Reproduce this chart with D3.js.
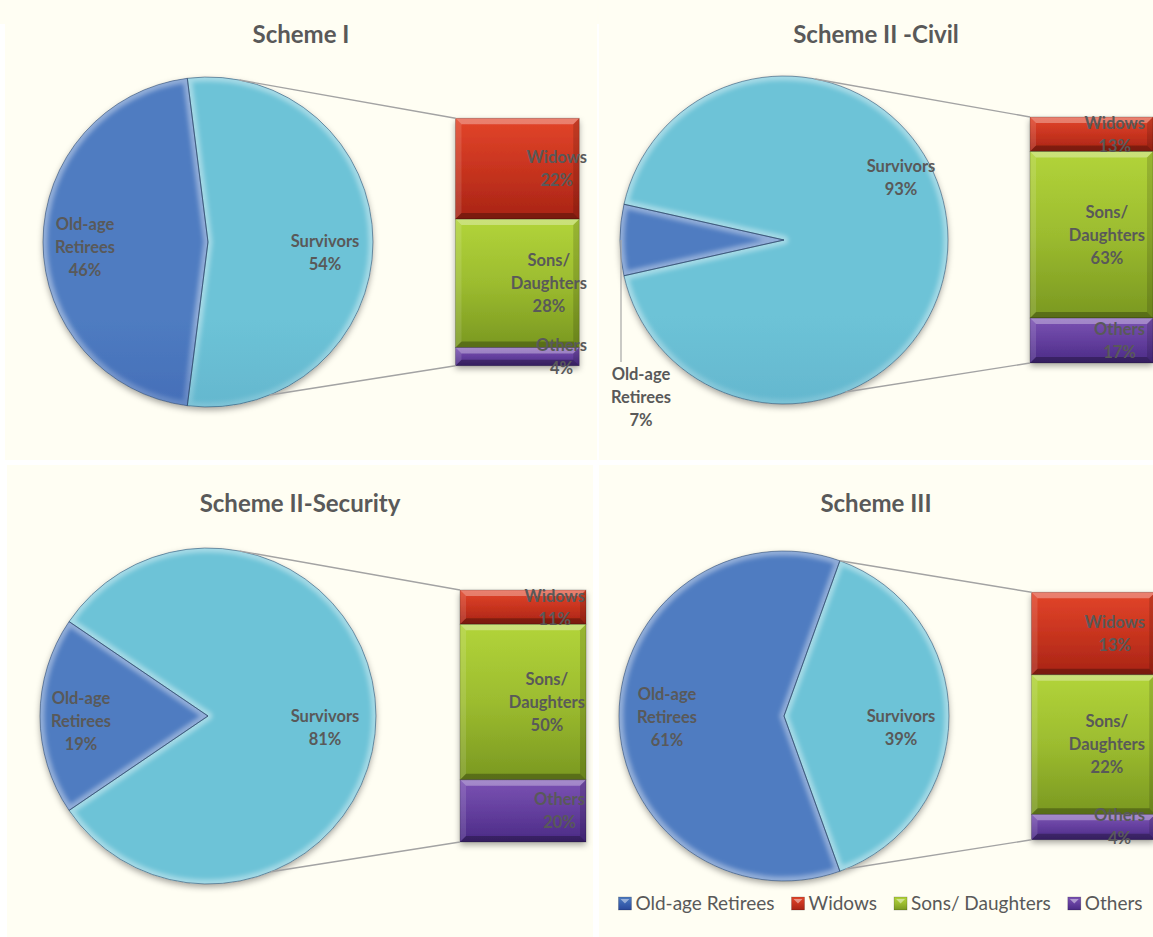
<!DOCTYPE html>
<html><head><meta charset="utf-8">
<script src="https://cdn.jsdelivr.net/npm/d3@7/dist/d3.min.js"></script>
<style>
html,body{margin:0;padding:0;background:#fff;}
svg{display:block;}
text{font-family:Lato,"Open Sans",sans-serif;}
</style></head><body>
<svg id="chart" width="1153" height="937"></svg>
<script>
// ---------------- data ----------------
const schemes = ["Scheme I", "Scheme II -Civil", "Scheme II-Security", "Scheme III"];
const pieCategories = ["Old-age Retirees", "Survivors"];
const oldAgeRetirees = [46, 7, 19, 61];
const survivors = [54, 93, 81, 39];
const barCategories = ["Widows", "Sons/ Daughters", "Others"];
const widows = [22, 13, 11, 13];
const sonsDaughters = [28, 63, 50, 22];
const others = [4, 17, 20, 4];
const legendLabels = ["Old-age Retirees", "Widows", "Sons/ Daughters", "Others"];

// ---------------- layout / style ----------------
const panels = [
  {x:5,   y:24,  w:592, h:436, cx:208, cy:242, r:165, titleY:43,  labelPad:10, oldLab:[-123,5],  survLab:[117,11]},
  {x:599, y:24,  w:554, h:436, cx:784, cy:240, r:164, titleY:43,  labelPad:8,  oldLab:[-143,157], survLab:[117,-62], oldOutside:true},
  {x:7,   y:465, w:586, h:472, cx:208, cy:716, r:168, titleY:512, labelPad:8,  oldLab:[-127,5],  survLab:[117,12]},
  {x:599, y:465, w:554, h:472, cx:784, cy:716, r:165, titleY:512, labelPad:8,  oldLab:[-117,1],  survLab:[117,12], legend:true}
];
const colors = {
  "Old-age Retirees": ["#4f7cc1", "#3a62b0", "#2a489b"],
  "Survivors":        ["#6dc3d7", "#5cadc7", "#4590ab"],
  "Widows":           ["#e2452a", "#c8341f", "#a82415"],
  "Sons/ Daughters":  ["#b2d43a", "#9cbc2f", "#7a9821"],
  "Others":           ["#7b53b3", "#643f9e", "#4a2a85"]
};
const textColor = "#595959";
const cream = "#fffef3";
const lineH = 23;

const svg = d3.select("#chart");
const defs = svg.append("defs");
const key = s => s.replace(/[^A-Za-z]/g, "");

function addStops(gr, c) {
  gr.append("stop").attr("offset", "0%").attr("stop-color", c[0]);
  gr.append("stop").attr("offset", "50%").attr("stop-color", c[1]);
  gr.append("stop").attr("offset", "100%").attr("stop-color", c[2]);
}
Object.entries(colors).forEach(([k, c]) => {
  addStops(defs.append("linearGradient").attr("id", "g" + key(k))
    .attr("x1", 0).attr("y1", 0).attr("x2", 0).attr("y2", 1), c);
});
const shadow = defs.append("filter").attr("id", "shadow")
  .attr("x", "-20%").attr("y", "-20%").attr("width", "140%").attr("height", "140%");
shadow.append("feDropShadow").attr("dx", 0).attr("dy", 3).attr("stdDeviation", 3)
  .attr("flood-color", "#000").attr("flood-opacity", 0.35);
const blur = defs.append("filter").attr("id", "blur")
  .attr("x", "-10%").attr("y", "-10%").attr("width", "120%").attr("height", "120%");
blur.append("feGaussianBlur").attr("stdDeviation", 2);

svg.append("rect").attr("x", 0).attr("y", 0).attr("width", 1153).attr("height", 24).attr("fill", cream);
panels.forEach(p => svg.append("rect").attr("x", p.x).attr("y", p.y)
  .attr("width", p.w).attr("height", p.h).attr("fill", cream));

function multiText(g, lines, cx, cy, opts = {}) {
  const size = opts.size || 16.5;
  const t = g.append("text").attr("text-anchor", "middle")
    .attr("font-size", size).attr("font-weight", "bold").attr("fill", textColor);
  const y0 = cy - (lines.length - 1) * lineH / 2 + size * 0.36;
  lines.forEach((l, i) => t.append("tspan").attr("x", cx).attr("y", y0 + i * lineH).text(l));
  return t;
}

panels.forEach((p, i) => {
  const g = svg.append("g");
  const pid = "p" + i;

  g.append("text").attr("x", p.x + p.w / 2).attr("y", p.titleY)
    .attr("text-anchor", "middle").attr("font-size", 24).attr("font-weight", "bold")
    .attr("fill", textColor).text(schemes[i]);

  // ---- pie ----
  const pieVals = [
    {cat: "Survivors", v: survivors[i]},
    {cat: "Old-age Retirees", v: oldAgeRetirees[i]}
  ];
  const total = survivors[i] + oldAgeRetirees[i];
  const survAngle = survivors[i] / total * 2 * Math.PI;
  const start = Math.PI / 2 - survAngle / 2;
  const pie = d3.pie().sort(null).value(d => d.v).startAngle(start).endAngle(start + 2 * Math.PI);
  const arcs = pie(pieVals);
  const arc = d3.arc().innerRadius(0).outerRadius(p.r);

  pieCategories.forEach(c => {
    addStops(defs.append("linearGradient").attr("id", pid + key(c))
      .attr("gradientUnits", "userSpaceOnUse")
      .attr("x1", 0).attr("y1", p.cy - p.r).attr("x2", 0).attr("y2", p.cy + p.r), colors[c]);
  });
  const bev = defs.append("linearGradient").attr("id", pid + "bev")
    .attr("gradientUnits", "userSpaceOnUse")
    .attr("x1", 0).attr("y1", p.cy - p.r).attr("x2", 0).attr("y2", p.cy + p.r);
  bev.append("stop").attr("offset", "0%").attr("stop-color", "#fff").attr("stop-opacity", 0.38);
  bev.append("stop").attr("offset", "40%").attr("stop-color", "#fff").attr("stop-opacity", 0.06);
  bev.append("stop").attr("offset", "65%").attr("stop-color", "#000").attr("stop-opacity", 0.03);
  bev.append("stop").attr("offset", "100%").attr("stop-color", "#000").attr("stop-opacity", 0.45);

  const pg = g.append("g").attr("transform", `translate(${p.cx},${p.cy})`);
  const base = pg.append("g").attr("filter", "url(#shadow)");
  base.selectAll("path").data(arcs).join("path")
    .attr("d", arc).attr("fill", d => `url(#${pid}${key(d.data.cat)})`);
  arcs.forEach((d, j) => {
    const cid = `${pid}clip${j}`;
    defs.append("clipPath").attr("id", cid).append("path")
      .attr("d", arc(d)).attr("transform", `translate(${p.cx},${p.cy})`);
    g.append("g").attr("clip-path", `url(#${cid})`)
      .append("path").attr("transform", `translate(${p.cx},${p.cy})`)
      .attr("d", arc(d)).attr("fill", "none")
      .attr("stroke", `url(#${pid}bev)`).attr("stroke-width", 9)
      .attr("stroke-linejoin", "round").attr("filter", "url(#blur)");
  });
  g.append("g").attr("transform", `translate(${p.cx},${p.cy})`)
    .selectAll("path").data(arcs).join("path")
    .attr("d", arc).attr("fill", "none")
    .attr("stroke", "#1d3a5e").attr("stroke-opacity", 0.5).attr("stroke-width", 1);

  // ---- bar ----
  const barVals = [widows[i], sonsDaughters[i], others[i]];
  const barH = p.r * 1.5, barW = p.r * 0.75;
  const barX = p.cx + p.r * 1.5;
  const barTop = p.cy - barH / 2;
  const y = d3.scaleLinear().domain([0, d3.sum(barVals)]).range([barTop, barTop + barH]);
  let cum = 0;
  const segs = barVals.map((v, j) => {
    const s = {cat: barCategories[j], v, y0: y(cum), y1: y(cum + v)};
    cum += v;
    return s;
  });
  const bg = g.append("g");
  bg.append("g").attr("filter", "url(#shadow)").selectAll("rect").data(segs).join("rect")
    .attr("x", barX).attr("y", d => d.y0).attr("width", barW).attr("height", d => d.y1 - d.y0)
    .attr("fill", d => `url(#g${key(d.cat)})`);
  segs.forEach(s => {
    const h = s.y1 - s.y0, b = Math.min(6, h / 3);
    const x0 = barX, x1 = barX + barW, y0 = s.y0, y1 = s.y1;
    const poly = (pts, fill, op) => bg.append("polygon")
      .attr("points", pts.map(q => q.join(",")).join(" ")).attr("fill", fill).attr("fill-opacity", op);
    poly([[x0,y0],[x1,y0],[x1-b,y0+b],[x0+b,y0+b]], "#fff", 0.32);
    poly([[x0,y1],[x1,y1],[x1-b,y1-b],[x0+b,y1-b]], "#000", 0.28);
    poly([[x0,y0],[x0+b,y0+b],[x0+b,y1-b],[x0,y1]], "#fff", 0.12);
    poly([[x1,y0],[x1-b,y0+b],[x1-b,y1-b],[x1,y1]], "#000", 0.14);
    bg.append("rect").attr("x", x0).attr("y", y0).attr("width", barW).attr("height", h)
      .attr("fill", "none").attr("stroke", "#000").attr("stroke-opacity", 0.25).attr("stroke-width", 0.8);
  });

  // ---- connector lines ----
  const deg = Math.PI / 180;
  const aTop = Math.max(arcs[0].startAngle, 11 * deg);
  const aBot = Math.min(arcs[0].endAngle, 158 * deg);
  const pt = a => [p.cx + p.r * Math.sin(a), p.cy - p.r * Math.cos(a)];
  const line = d3.line();
  g.append("path").attr("d", line([pt(aTop), [barX, y(0)]]))
    .attr("stroke", "#a3a3a3").attr("stroke-width", 1.4).attr("fill", "none");
  g.append("path").attr("d", line([pt(aBot), [barX, y(d3.sum(barVals))]]))
    .attr("stroke", "#a3a3a3").attr("stroke-width", 1.4).attr("fill", "none");

  // ---- labels ----
  const fmt = v => v + "%";
  multiText(g, ["Survivors", fmt(survivors[i])], p.cx + p.survLab[0], p.cy + p.survLab[1]);
  const oldLines = pieCategories[0].split(" ").concat([fmt(oldAgeRetirees[i])]);
  multiText(g, oldLines, p.cx + p.oldLab[0], p.cy + p.oldLab[1]);
  if (p.oldOutside) {
    const lx = p.cx - p.r + 1;
    const labTop = p.cy + p.oldLab[1] - (oldLines.length - 1) * lineH / 2 - 12;
    g.append("path").attr("d", line([[lx, p.cy], [lx, labTop]]))
      .attr("stroke", "#a6a6a6").attr("stroke-width", 1.2).attr("fill", "none");
  }
  const labelRight = p.x + p.w - p.labelPad;
  segs.forEach(s => {
    const lines = s.cat.split(" ").concat([fmt(s.v)]);
    const t = multiText(g, lines, 0, (s.y0 + s.y1) / 2);
    const w = t.node().getBBox().width;
    t.selectAll("tspan").attr("x", labelRight - w / 2);
  });

  // ---- legend ----
  if (p.legend) {
    const lg = g.append("g");
    let xx = 0;
    legendLabels.forEach(l => {
      const gi = lg.append("g").attr("transform", `translate(${xx},0)`);
      gi.append("rect").attr("x", 0).attr("y", -13).attr("width", 13).attr("height", 13)
        .attr("fill", `url(#g${key(l)})`).attr("stroke", "#000").attr("stroke-opacity", 0.3).attr("stroke-width", 0.6);
      gi.append("polygon").attr("points", "2,-11 11,-11 6.5,-6.5").attr("fill", "#fff").attr("fill-opacity", 0.45);
      const t = gi.append("text").attr("x", 17).attr("y", 0).attr("font-size", 19)
        .attr("fill", textColor).text(l);
      xx += 17 + t.node().getComputedTextLength() + 17;
    });
    const totalW = xx - 17;
    lg.attr("transform", `translate(${880.5 - totalW / 2},${910})`);
  }
});
</script>
</body></html>
